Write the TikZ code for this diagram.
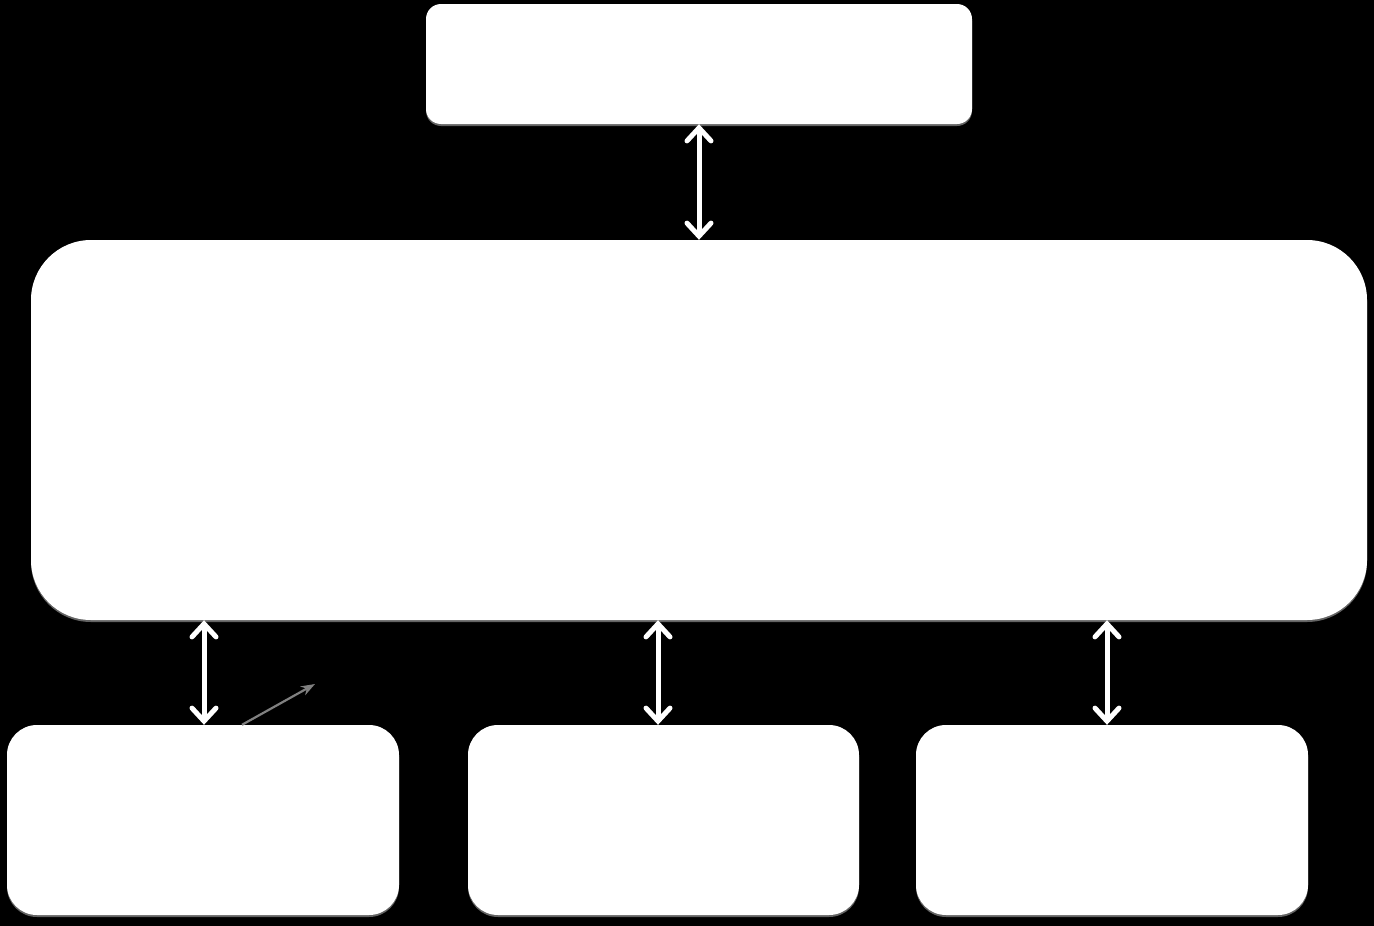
\documentclass[tikz,border=0pt]{standalone}
\usetikzlibrary{arrows.meta,shadows}
\begin{document}
\begin{tikzpicture}[x=1pt,y=-1pt,
  box/.style={draw=none,fill=white,rectangle,inner sep=0pt,
    drop shadow={shadow xshift=0pt,shadow yshift=-2pt,fill=gray!70,opacity=0.6}},
  link/.style={draw=white,line width=5pt,line cap=round,
    {Straight Barb[length=13pt,width=24pt,line width=5pt,line cap=round]}-{Straight Barb[length=13pt,width=24pt,line width=5pt,line cap=round]}},
  pointer/.style={draw=gray,line width=2.2pt,-{Stealth[length=14pt,width=10pt]}}]
\fill[black] (0,0) rectangle (1374,926);
\useasboundingbox (0,0) rectangle (1374,926);
\node[box,rounded corners=15pt,minimum width=546pt,minimum height=120pt] (top) at (699,64) {};
\node[box,rounded corners=60pt,minimum width=1336pt,minimum height=380pt] (main) at (699,430) {};
\node[box,rounded corners=30pt,minimum width=392pt,minimum height=190pt] (bl) at (203,820) {};
\node[box,rounded corners=30pt,minimum width=391pt,minimum height=190pt] (bm) at (663.5,820) {};
\node[box,rounded corners=30pt,minimum width=392pt,minimum height=190pt] (br) at (1112,820) {};
\draw[link] (top.south) -- (main.north);
\draw[link] ([xshift=1pt]bl.north |- main.south) -- ([xshift=1pt]bl.north);
\draw[link] ([xshift=-5.5pt]bm.north |- main.south) -- ([xshift=-5.5pt]bm.north);
\draw[link] ([xshift=-5pt]br.north |- main.south) -- ([xshift=-5pt]br.north);
\coordinate (ptip) at (315,684);
\draw[pointer] ([xshift=39pt]bl.north) -- (ptip);
\end{tikzpicture}
\end{document}
